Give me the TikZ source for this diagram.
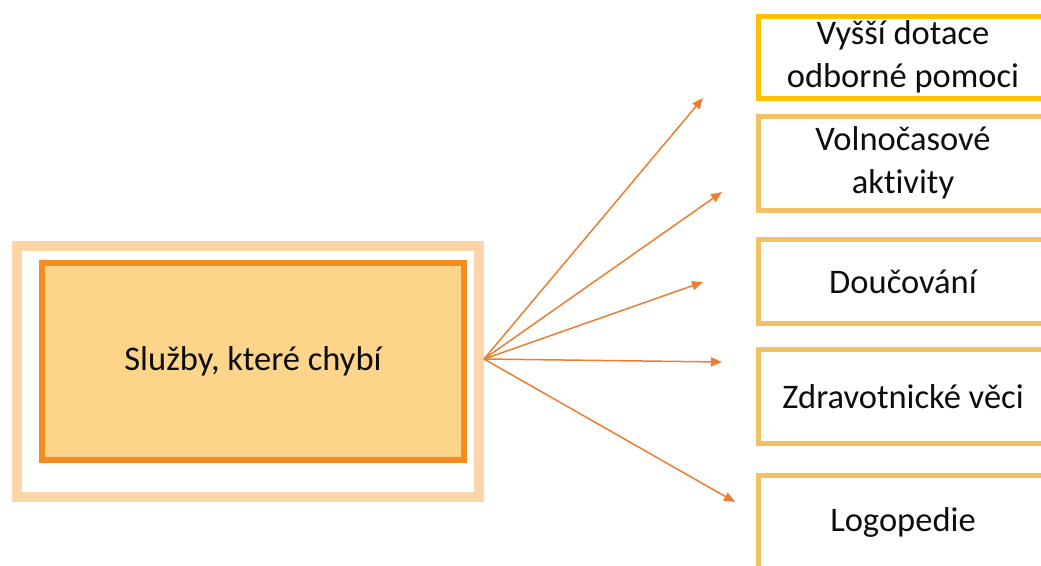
\documentclass[tikz,border=0pt]{standalone}
\usepackage{fontspec}
\setmainfont{Carlito}[Ligatures=CommonOff]
\usetikzlibrary{arrows.meta}
\definecolor{peach}{RGB}{253,213,168}
\definecolor{mainfill}{RGB}{253,213,138}
\definecolor{mainedge}{RGB}{246,139,31}
\definecolor{gold}{RGB}{255,192,0}
\definecolor{sand}{RGB}{242,193,100}
\definecolor{arrowc}{RGB}{237,125,49}
\begin{document}
\begin{tikzpicture}[x=1pt,y=-1pt,
  lbl/.style={font=\fontsize{34.5}{43}\selectfont, align=center, text=black!95},
  item/.style={lbl, draw=sand, line width=5pt, minimum width=289pt, inner sep=0pt},
  link/.style={draw=arrowc, line width=1.5pt, -{Triangle[length=11pt,width=9pt]}}]
\useasboundingbox (0,0) rectangle (1041,565);
\clip (0,0) rectangle (1041,565);
% central topic with its light frame
\node[draw=peach, line width=10pt, minimum width=462pt, minimum height=251pt, inner sep=0pt] (frame) at (248,371.5) {};
\node[lbl, draw=mainedge, fill=mainfill, line width=6pt, minimum width=422pt, minimum height=197pt, inner sep=0pt] (main) at (253,361.5) {Služby, které chybí};
% missing services
\node[item, draw=gold, minimum height=82pt] (i1) at (903,57) {Vyšší dotace\\odborné pomoci};
\node[item, minimum height=94pt] (i2) at (903,163) {Volnočasové\\aktivity};
\node[item, minimum height=84pt] (i3) at (903,281.5) {Doučování};
\node[item, minimum height=94pt] (i4) at (903,396.5) {Zdravotnické věci};
\node[item, minimum height=94pt] (i5) at (903,522.5) {Logopedie};
% fan of arrows
\coordinate (hub) at (484,359);
\coordinate (t1) at (703,98);
\coordinate (t2) at (722,192);
\coordinate (t3) at (703,282);
\coordinate (t4) at (722,362);
\coordinate (t5) at (735,502);
\foreach \t in {t1,t2,t3,t4,t5} \draw[link] (hub) -- (\t);
\end{tikzpicture}
\end{document}
